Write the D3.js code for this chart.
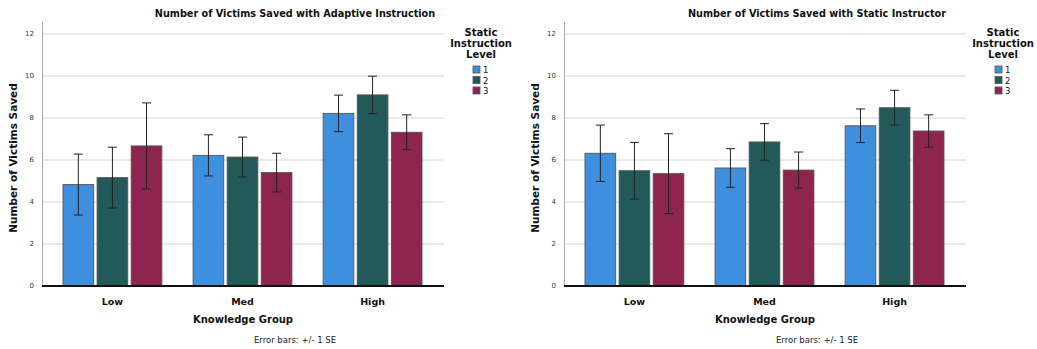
<!DOCTYPE html>
<html>
<head>
<meta charset="utf-8">
<script src="https://cdn.jsdelivr.net/npm/d3@7"></script>
<style>
  body { margin: 0; background: #fff; }
  svg { font-family: 'DejaVu Sans', sans-serif; }
</style>
</head>
<body>
<div id="chart"></div>
<script>
const groups = ['Low', 'Med', 'High']
const levels = ['1', '2', '3']
const colors = ['#3f8fdf', '#225a5a', '#8e2450']
const yTicks = [0, 2, 4, 6, 8, 10, 12]

// means [group][level], standard errors [group][level]
const adaptiveMeans = [[4.83, 5.16, 6.67], [6.22, 6.14, 5.40], [8.22, 9.10, 7.32]]
const adaptiveSE = [[1.45, 1.45, 2.05], [0.98, 0.95, 0.92], [0.87, 0.89, 0.83]]
const staticMeans = [[6.32, 5.49, 5.35], [5.62, 6.86, 5.52], [7.63, 8.49, 7.38]]
const staticSE = [[1.34, 1.35, 1.90], [0.92, 0.87, 0.86], [0.80, 0.83, 0.77]]

const panels = [
  { title: 'Number of Victims Saved with Adaptive Instruction', means: adaptiveMeans, se: adaptiveSE, left: 42 },
  { title: 'Number of Victims Saved with Static Instructor', means: staticMeans, se: staticSE, left: 564 }
]

const W = 1037
const H = 349
const plotW = 402
const yTop = 22
const yBottom = 286

const svg = d3
  .select('#chart')
  .append('svg')
  .attr('width', W)
  .attr('height', H)

const y = d3.scaleLinear().domain([0, 12]).range([yBottom, 34])

panels.forEach(function(p) {
  const g = svg.append('g').attr('transform', 'translate(' + p.left + ',0)')

  const x0 = d3.scaleBand().domain(groups).range([21, 380]).paddingInner(0.24).paddingOuter(0)
  const x1 = d3.scaleBand().domain(levels).range([0, x0.bandwidth()]).paddingInner(0.1)

  // gridlines
  g.selectAll('.grid')
    .data(yTicks.filter(d => d > 0))
    .enter()
    .append('line')
    .attr('x1', 0)
    .attr('x2', plotW)
    .attr('y1', d => y(d))
    .attr('y2', d => y(d))
    .attr('stroke', '#d4d4d4')
    .attr('stroke-width', 1)

  // y axis line
  g.append('line')
    .attr('x1', 0.5)
    .attr('x2', 0.5)
    .attr('y1', yTop)
    .attr('y2', yBottom)
    .attr('stroke', '#aaa')

  g.selectAll('.ytick')
    .data(yTicks)
    .enter()
    .append('text')
    .attr('x', -8)
    .attr('y', d => y(d))
    .attr('dy', '0.35em')
    .attr('text-anchor', 'end')
    .style('font-size', '7px')
    .attr('fill', '#333')
    .text(d => d)

  const grp = g.selectAll('.grp')
    .data(groups)
    .enter()
    .append('g')
    .attr('transform', d => 'translate(' + x0(d) + ',0)')

  grp.each(function(gname, gi) {
    const sel = d3.select(this)
    levels.forEach(function(lv, li) {
      const m = p.means[gi][li]
      const s = p.se[gi][li]
      const bx = x1(lv)
      const bw = x1.bandwidth()
      sel.append('rect')
        .attr('x', bx)
        .attr('y', y(m))
        .attr('width', bw)
        .attr('height', y(0) - y(m))
        .attr('fill', colors[li])
        .attr('stroke', '#555')
        .attr('stroke-width', 0.9)
      const cx = bx + bw / 2
      sel.append('line')
        .attr('x1', cx).attr('x2', cx)
        .attr('y1', y(m + s)).attr('y2', y(m - s))
        .attr('stroke', '#222').attr('stroke-width', 1)
      ;[m + s, m - s].forEach(function(v) {
        sel.append('line')
          .attr('x1', cx - 4.5).attr('x2', cx + 4.5)
          .attr('y1', y(v)).attr('y2', y(v))
          .attr('stroke', '#222').attr('stroke-width', 1)
      })
    })
  })

  // baseline
  g.append('line')
    .attr('x1', 0)
    .attr('x2', plotW)
    .attr('y1', yBottom)
    .attr('y2', yBottom)
    .attr('stroke', '#111')
    .attr('stroke-width', 2)

  g.selectAll('.xlab')
    .data(groups)
    .enter()
    .append('text')
    .attr('x', d => x0(d) + x0.bandwidth() / 2)
    .attr('y', 305)
    .attr('text-anchor', 'middle')
    .style('font-size', '9.5px')
    .style('font-weight', 'bold')
    .attr('fill', '#111')
    .text(d => d)

  g.append('text')
    .attr('x', 201)
    .attr('y', 323)
    .attr('text-anchor', 'middle')
    .style('font-size', '10px')
    .style('font-weight', 'bold')
    .attr('fill', '#111')
    .text('Knowledge Group')

  g.append('text')
    .attr('x', 253)
    .attr('y', 343)
    .attr('text-anchor', 'middle')
    .style('font-size', '8.5px')
    .attr('fill', '#222')
    .text('Error bars: +/- 1 SE')

  g.append('text')
    .attr('x', 253)
    .attr('y', 17)
    .attr('text-anchor', 'middle')
    .style('font-size', '9.7px')
    .style('font-weight', 'bold')
    .attr('fill', '#111')
    .text(p.title)

  g.append('text')
    .attr('transform', 'translate(-25,' + ((yTop + yBottom) / 2 + 4) + ') rotate(-90)')
    .attr('text-anchor', 'middle')
    .style('font-size', '10.5px')
    .style('font-weight', 'bold')
    .attr('fill', '#111')
    .text('Number of Victims Saved')

  // legend
  const lg = g.append('g').attr('transform', 'translate(' + (plotW + 37) + ',0)')
  ;['Static', 'Instruction', 'Level'].forEach(function(t, i) {
    lg.append('text')
      .attr('x', 0)
      .attr('y', 36 + i * 11)
      .attr('text-anchor', 'middle')
      .style('font-size', '10px')
      .style('font-weight', 'bold')
      .attr('fill', '#111')
      .text(t)
  })
  levels.forEach(function(lv, i) {
    lg.append('rect')
      .attr('x', -8)
      .attr('y', 66 + i * 10.5)
      .attr('width', 7)
      .attr('height', 7)
      .attr('fill', colors[i])
      .attr('stroke', '#555')
      .attr('stroke-width', 0.8)
    lg.append('text')
      .attr('x', 2)
      .attr('y', 73 + i * 10.5)
      .style('font-size', '8.5px')
      .attr('fill', '#111')
      .text(lv)
  })
})
</script>
</body>
</html>
